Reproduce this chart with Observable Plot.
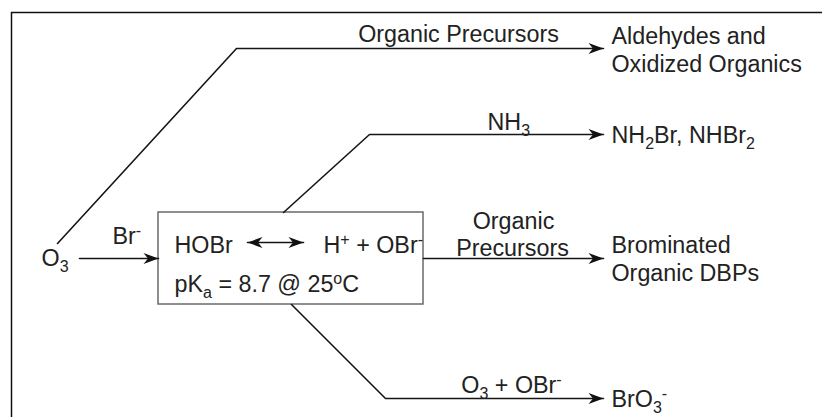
<!DOCTYPE html>
<html><head><meta charset="utf-8">
<script src="https://cdn.jsdelivr.net/npm/d3@7"></script>
<script src="https://cdn.jsdelivr.net/npm/@observablehq/plot@0.6"></script>
<style>body{margin:0;background:#fff}</style>
</head><body><div id="chart"></div>
<script>
// Reaction pathways (polyline vertices in diagram units)
const pathOrganic = [[57,243],[236,48],[603,48]];
const pathNH3 = [[283,212],[369,134],[603,134]];
const pathBrIn = [[79,258],[158,258]];
const pathDBP = [[423,258],[603,258]];
const pathBrO3 = [[291,304],[385,398],[603,398]];
const pathEquil = [[247,242],[303,242]];
const paths = [
  ["organic", pathOrganic], ["nh3", pathNH3], ["brin", pathBrIn],
  ["dbp", pathDBP], ["bro3", pathBrO3], ["equil", pathEquil]
];
// Arrow heads: [x, y, angle]
const heads = [[603,48,0],[603,134,0],[158,258,0],[603,258,0],[603,398,0],[303,242,0],[247,242,180]];
// HOBr box
const box = [{x1:158, x2:423, y1:212, y2:304}];
// Labels: [text, x, baseline y]  ({_x} subscript, {^x} superscript)
const labelsStart = [
  ["Aldehydes and", 611, 43],
  ["Oxidized Organics", 611, 71],
  ["NH{_3}", 487, 129],
  ["NH{_2}Br, NHBr{_2}", 611, 142],
  ["Brominated", 611, 252],
  ["Organic DBPs", 611, 280],
  ["BrO{_3}{^-}", 611, 406],
  ["Br{^-}", 112, 243],
  ["O{_3}", 41, 265],
  ["HOBr", 174, 252],
  ["H{^+} + OBr{^-}", 323, 252],
  ["pK{_a} = 8.7 @ 25{^o}C", 174, 291]
];
const labelsMiddle = [
  ["Organic Precursors", 458, 41],
  ["Organic", 513, 228],
  ["Precursors", 512, 255],
  ["O{_3} + OBr{^-}", 511, 392]
];

const lineData = paths.flatMap(([id, pts]) => pts.map(([x, y]) => ({id, x, y})));
const headData = heads.map(([x, y, a]) => ({x, y, a}));
const toLab = arr => arr.map(([text, x, y]) => ({text, x, y}));

const stealth = {
  draw(ctx) {
    ctx.moveTo(0, 0);
    ctx.lineTo(-15, -5.5);
    ctx.lineTo(-10.5, 0);
    ctx.lineTo(-15, 5.5);
    ctx.closePath();
  }
};

const font = "Liberation Sans, Arial, Helvetica, sans-serif";
const fs = 23.3;
const plot = Plot.plot({
  width: 822, height: 417,
  margin: 0,
  x: {domain: [0, 822], range: [0, 822], axis: null},
  y: {domain: [0, 417], range: [0, 417], axis: null},
  style: {fontFamily: font, background: "#fff"},
  marks: [
    Plot.ruleX([11], {y1: 12, y2: 417, stroke: "#111", strokeWidth: 1.5}),
    Plot.ruleY([12], {x1: 11, x2: 822, stroke: "#111", strokeWidth: 1.5}),
    Plot.rect(box, {x1: "x1", x2: "x2", y1: "y1", y2: "y2", fill: "#fff", stroke: "#6a6a6a", strokeWidth: 1.5}),
    Plot.line(lineData, {x: "x", y: "y", z: "id", stroke: "#151515", strokeWidth: 1.6}),
    Plot.dot(headData, {x: "x", y: "y", rotate: "a", symbol: stealth, r: 5, fill: "#111", stroke: "none"}),
    Plot.text(toLab(labelsStart), {x: "x", y: "y", text: "text", textAnchor: "start", lineAnchor: "bottom", fontSize: fs, fill: "#222"}),
    Plot.text(toLab(labelsMiddle), {x: "x", y: "y", text: "text", textAnchor: "middle", lineAnchor: "bottom", fontSize: fs, fill: "#222"})
  ]
});

// Turn {_x} / {^x} markup into sub/superscript tspans
plot.querySelectorAll("text").forEach(t => {
  const s = t.textContent;
  if (!/\{[_^]/.test(s)) return;
  t.textContent = "";
  let shift = 0;
  const re = /\{([_^])([^}]*)\}|([^{]+)/g;
  let m;
  while ((m = re.exec(s))) {
    const ts = document.createElementNS("http://www.w3.org/2000/svg", "tspan");
    let target;
    if (m[3] !== undefined) { target = 0; ts.textContent = m[3]; }
    else {
      target = m[1] === "_" ? 6 : -8;
      ts.textContent = m[2];
      ts.setAttribute("font-size", "16px");
    }
    if (target !== shift) ts.setAttribute("dy", target - shift);
    shift = target;
    t.appendChild(ts);
  }
});

document.getElementById("chart").appendChild(plot);
</script>
</body></html>
